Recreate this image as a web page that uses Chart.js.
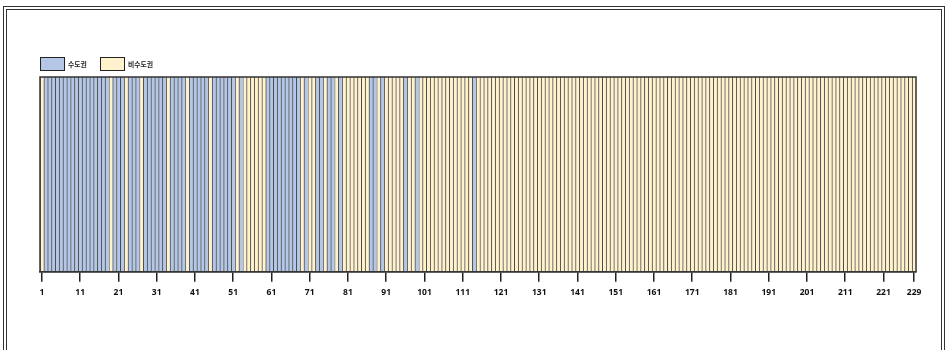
<!DOCTYPE html>
<html>
<head>
<meta charset="utf-8">
<script src="https://cdn.jsdelivr.net/npm/chart.js@4.4.0/dist/chart.umd.min.js"></script>
<style>
  html, body { margin: 0; padding: 0; background: #fff; }
  #wrap { position: relative; width: 948px; height: 350px; overflow: hidden; }
  .frame { position: absolute; border: 1px solid #333; }
  #frameOuter { left: 3px; top: 6px; width: 940px; height: 400px; }
  #frameInner { left: 6px; top: 9px; width: 934px; height: 400px; }
  canvas { position: absolute; left: 0; top: 0; }
  .item { position: absolute; top: 57px; display: flex; align-items: center;
          font-family: 'Noto Sans CJK KR', sans-serif; font-size: 6.8px; font-weight: bold; color: #222; }
  .box { width: 23px; height: 12px; border: 1.2px solid #222; margin-right: 3px; }
</style>
</head>
<body>
<div id="wrap">
  <div class="frame" id="frameOuter"></div>
  <div class="frame" id="frameInner"></div>
  <canvas id="grafico" width="948" height="350"></canvas>
  <div id="legenda"></div>
</div>
<script>
// 권역 구분: S = 수도권, N = 비수도권 (순위 1~229, 한 줄에 10개씩)
const regionRows = [
  'NSSSSSSSSS', // 1-10
  'SSSSSSSSNS', // 11-20
  'SSNSSSNSSS', // 21-30
  'SSSNSSSSNS', // 31-40
  'SSSSNSSSSS', // 41-50
  'SNSNNNNNNS', // 51-60
  'SSSSSSSSNS', // 61-70
  'NNSSNSSNSN', // 71-80
  'NNNNNNSSNS', // 81-90
  'NNNNNSNNSN', // 91-100
  'NNNNNNNNNN', // 101-110
  'NNNSNNNNNN', // 111-120
  'NNNNNNNNNN', // 121-130
  'NNNNNNNNNN', // 131-140
  'NNNNNNNNNN', // 141-150
  'NNNNNNNNNN', // 151-160
  'NNNNNNNNNN', // 161-170
  'NNNNNNNNNN', // 171-180
  'NNNNNNNNNN', // 181-190
  'NNNNNNNNNN', // 191-200
  'NNNNNNNNNN', // 201-210
  'NNNNNNNNNN', // 211-220
  'NNNNNNNNN'   // 221-229
];
const regionCodes = ['S', 'N'];
const regionNames = ['수도권', '비수도권'];
const regionColors = ['#b4c7e7', '#fff2cc'];
const tickLabels = [1, 11, 21, 31, 41, 51, 61, 71, 81, 91, 101, 111, 121, 131, 141, 151, 161, 171, 181, 191, 201, 211, 221, 229];

const region = regionRows.join('').split('');
const ranks = region.map((_, i) => i + 1);

// legenda em HTML
const legenda = document.getElementById('legenda');
const legendLeft = [40, 100];
regionNames.forEach((nome, k) => {
  const item = document.createElement('div');
  item.className = 'item';
  item.style.left = legendLeft[k] + 'px';
  item.innerHTML = `<div class="box" style="background:${regionColors[k]}"></div><span>${nome}</span>`;
  legenda.appendChild(item);
});

const datasets = regionNames.map((nome, k) => ({
  label: nome,
  data: region.map(r => r === regionCodes[k] ? 1 : null),
  backgroundColor: regionColors[k],
  borderColor: 'rgba(30, 30, 30, 0.8)',
  borderWidth: { left: 1, right: 0, top: 0, bottom: 0 },
  borderSkipped: false,
  barPercentage: 1,
  categoryPercentage: 1,
}));

const plotFrame = {
  id: 'plotFrame',
  afterDatasetsDraw(chart) {
    const { ctx, chartArea: a } = chart;
    ctx.save();
    ctx.strokeStyle = '#333';
    ctx.lineWidth = 1.5;
    ctx.strokeRect(a.left, a.top, a.right - a.left, a.bottom - a.top);
    ctx.restore();
  }
};

new Chart(document.getElementById('grafico').getContext('2d'), {
  type: 'bar',
  data: { labels: ranks, datasets: datasets },
  options: {
    responsive: false,
    animation: false,
    devicePixelRatio: 1,
    layout: { padding: { left: 40, right: 32, top: 77, bottom: 46 } },
    plugins: { legend: { display: false }, tooltip: { enabled: false } },
    scales: {
      x: {
        stacked: true,
        offset: true,
        grid: { display: true, drawOnChartArea: false, drawTicks: true, tickLength: 10, color: '#222', lineWidth: 1.5, offset: false },
        border: { display: true, color: '#333', width: 1.5 },
        ticks: {
          autoSkip: false,
          maxRotation: 0,
          padding: 6,
          color: '#111',
          font: { family: 'Noto Sans', size: 8.5, weight: 'bold' },
          callback: function (valor, i) {
            const r = ranks[i];
            return tickLabels.includes(r) ? String(r) : null;
          }
        }
      },
      y: { stacked: true, min: 0, max: 1, display: false }
    }
  },
  plugins: [plotFrame]
});
</script>
</body>
</html>
